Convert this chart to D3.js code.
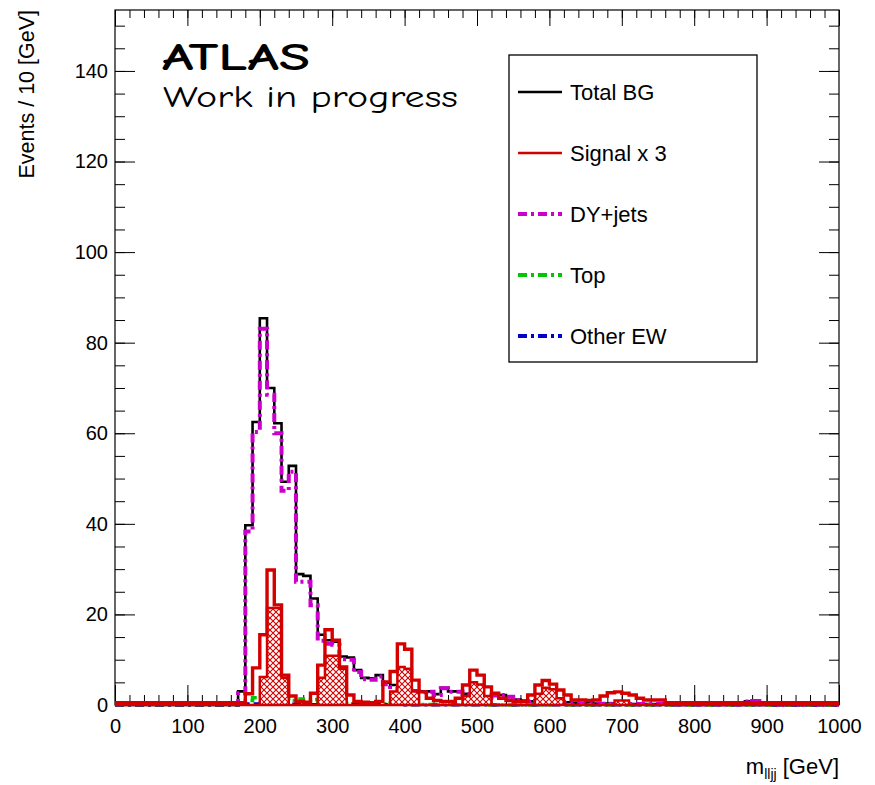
<!DOCTYPE html>
<html>
<head>
<meta charset="utf-8">
<script src="https://cdn.jsdelivr.net/npm/d3@7/dist/d3.min.js"></script>
<style>
  html, body { margin: 0; padding: 0; background: #fff; }
  svg { display: block; }
  .tick text { font-family: "Liberation Sans", Arial, Helvetica, sans-serif; }
</style>
</head>
<body>
<svg id="chart" width="875" height="785"></svg>
<script>
// m_lljj spectrum, 10 GeV bins from 0 to 1000 GeV
const binLow = d3.range(0, 1000, 10);

// Total background
const totalBG = [
  0, 0, 0, 0, 0, 0, 0, 0, 0, 0,
  0, 0, 0, 0, 0, 0, 0, 3.0, 39.7, 62.5,
  85.4, 70.0, 62.2, 49.3, 52.8, 28.9, 28.5, 23.5, 15.5, 14.3,
  14.0, 10.7, 10.5, 7.7, 6.0, 5.9, 6.6, 4.9, 4.4, 3.8,
  3.5, 3.2, 3.0, 3.0, 2.4, 3.8, 3.0, 3.0, 2.5, 2.2,
  2.0, 1.8, 2.2, 2.2, 1.8, 1.2, 1.0, 0.8, 1.0, 1.2,
  1.0, 0.8, 0.6, 0.5, 0.4, 0.4, 0.3, 0.3, 0.3, 0.3,
  0.3, 0.2, 0.2, 0.2, 0.2, 0.2, 0.1, 0.1, 0.1, 0.1,
  0.1, 0.1, 0.1, 0.1, 0.1, 0.1, 0.1, 0.8, 0.9, 0.1,
  0.1, 0, 0, 0, 0, 0, 0, 0, 0, 0
];

// Drell-Yan + jets
const dyJets = [
  0, 0, 0, 0, 0, 0, 0, 0, 0, 0,
  0, 0, 0, 0, 0, 0, 0, 2.6, 38.3, 60.3,
  83.1, 68.5, 60.0, 47.3, 51.5, 27.2, 27.2, 22.0, 14.2, 13.5,
  13.3, 10.1, 10.0, 7.3, 5.7, 5.6, 6.3, 4.6, 4.0, 3.5,
  3.2, 3.0, 2.8, 2.9, 2.2, 3.7, 2.9, 2.9, 2.4, 2.1,
  1.9, 1.7, 2.1, 2.2, 1.8, 1.1, 0.9, 0.7, 0.9, 1.1,
  0.9, 0.7, 0.5, 0.4, 0.3, 0.3, 0.3, 0.3, 0.3, 0.3,
  0.3, 0.2, 0.2, 0.2, 0.2, 0.2, 0.1, 0.1, 0.1, 0.1,
  0.1, 0.1, 0.1, 0.1, 0.1, 0.1, 0.1, 0.8, 0.9, 0.1,
  0.1, 0, 0, 0, 0, 0, 0, 0, 0, 0
];

// Top
const topBG = [
  0, 0, 0, 0, 0, 0, 0, 0, 0, 0,
  0, 0, 0, 0, 0, 0, 0, 0.3, 1.0, 1.6,
  1.8, 1.5, 1.9, 1.5, 1.0, 1.3, 0.9, 1.2, 0.8, 0.5,
  0.4, 0.4, 0.3, 0.3, 0.2, 0.2, 0.2, 0.2, 0.4, 0.2,
  0.2, 0.1, 0.1, 0.1, 0.1, 0.1, 0.1, 0.1, 0.1, 0.1,
  0.1, 0, 0, 0, 0, 0, 0, 0, 0, 0,
  0.1, 0.2, 0, 0, 0, 0, 0, 0, 0, 0,
  0, 0, 0, 0, 0, 0, 0, 0, 0, 0,
  0, 0, 0, 0, 0, 0, 0, 0, 0, 0,
  0, 0, 0, 0, 0, 0, 0, 0, 0, 0
];

// Other electroweak
const otherEW = [
  0, 0, 0, 0, 0, 0, 0, 0, 0, 0,
  0, 0, 0, 0, 0, 0, 0, 0.1, 0.3, 0.3,
  0.4, 0.3, 0.3, 0.2, 0.2, 0.2, 0.1, 0.1, 0.1, 0.1,
  0.1, 0.1, 0.1, 0.1, 0.1, 0.1, 0.1, 0.1, 0.1, 0.1,
  0, 0, 0, 0, 0, 0, 0, 0, 0, 0,
  0, 0, 0, 0, 0, 0, 0, 0, 0, 0,
  0, 0, 0, 0, 0, 0, 0, 0, 0, 0,
  0, 0, 0, 0, 0, 0, 0, 0, 0, 0,
  0, 0, 0, 0, 0, 0, 0, 0, 0, 0,
  0, 0, 0, 0, 0, 0, 0, 0, 0, 0
];

// Signal x 3, open outline (all mass points)
const signalOpen = [
  0.5, 0.5, 0.5, 0.5, 0.5, 0.5, 0.5, 0.5, 0.5, 0.5,
  0.5, 0.5, 0.5, 0.5, 0.5, 0.5, 0.5, 0.5, 2.5, 8.2,
  15.5, 29.8, 22.1, 6.6, 2.0, 0.8, 0.6, 2.6, 8.8, 16.6,
  14.3, 8.4, 2.2, 0.8, 0.6, 0.5, 0.8, 5.1, 7.4, 13.5,
  12.3, 5.5, 2.9, 1.5, 1.0, 0.8, 0.8, 1.5, 4.4, 7.7,
  6.6, 4.0, 2.6, 1.5, 1.0, 0.8, 0.8, 2.2, 4.4, 5.4,
  4.6, 3.3, 2.2, 1.1, 1.1, 1.0, 1.1, 2.0, 2.7, 2.9,
  2.6, 2.2, 1.5, 1.1, 1.1, 1.1, 0.5, 0.5, 0.5, 0.5,
  0.5, 0.5, 0.5, 0.5, 0.5, 0.5, 0.5, 0.5, 0.5, 0.5,
  0.5, 0.5, 0.5, 0.5, 0.5, 0.5, 0.5, 0.5, 0.5, 0.5
];

// Signal x 3, cross-hatched component
const signalHatched = [
  0, 0, 0, 0, 0, 0, 0, 0, 0, 0,
  0, 0, 0, 0, 0, 0, 0, 0, 0, 0,
  6.2, 21.4, 21.4, 6.0, 0, 0, 0, 0, 6.0, 10.9,
  10.9, 8.0, 0, 0, 0, 0, 0, 0, 3.0, 8.4,
  8.0, 3.0, 0, 0, 0, 0, 0, 0, 2.0, 5.0,
  4.5, 2.0, 0, 0, 0, 0, 0, 0, 2.5, 3.8,
  3.5, 1.5, 0, 0, 0, 0, 0, 0, 0, 1.0,
  1.0, 0, 0, 0, 0, 0, 0, 0, 0, 0,
  0, 0, 0, 0, 0, 0, 0, 0, 0, 0,
  0, 0, 0, 0, 0, 0, 0, 0, 0, 0
];

const xMajor = d3.range(0, 1001, 100);
const xMinor = d3.range(0, 1001, 20);
const yMajor = d3.range(0, 141, 20);
const yMinor = d3.range(0, 151, 5);

const legendLabels = ["Total BG", "Signal x 3", "DY+jets", "Top", "Other EW"];

const COL = { total: "#000000", signal: "#d40000", dy: "#cc00cc", top: "#00c800", ew: "#0000cc" };
const FONT = '"Liberation Sans", Arial, Helvetica, sans-serif';
const DASHDOT = "9,4,3,4";

const svg = d3.select("#chart");
const L = 115, R = 839, T = 10, B = 705;

const x = d3.scaleLinear().domain([0, 1000]).range([L, R]);
const y = d3.scaleLinear().domain([0, (B - T) / 4.529]).range([B, T]);

const defs = svg.append("defs");
defs.append("clipPath").attr("id", "plotclip")
  .append("rect").attr("x", L).attr("y", T).attr("width", R - L).attr("height", B - T + 3);
const pat = defs.append("pattern").attr("id", "xhatch")
  .attr("patternUnits", "userSpaceOnUse").attr("width", 6).attr("height", 6);
pat.append("rect").attr("width", 6).attr("height", 6).attr("fill", "#fff");
pat.append("path").attr("d", "M-1,-1L7,7M7,-1L-1,7")
  .attr("stroke", COL.signal).attr("stroke-width", 1.1);

// Axes: ticks drawn inward on all four sides
function styleAxis(g) {
  g.select(".domain").remove();
  g.selectAll(".tick line").attr("stroke", "#000").attr("stroke-width", 1);
  g.selectAll(".tick text").attr("font-size", 20).attr("fill", "#000").attr("font-family", FONT);
}
svg.append("g").attr("transform", `translate(0,${B})`)
  .call(d3.axisBottom(x).tickValues(xMinor).tickSize(-10).tickFormat(""))
  .call(styleAxis);
svg.append("g").attr("transform", `translate(0,${B})`)
  .call(d3.axisBottom(x).tickValues(xMajor).tickSize(-20).tickPadding(14).tickFormat(d3.format("d")))
  .call(styleAxis);
svg.append("g").attr("transform", `translate(0,${T})`)
  .call(d3.axisTop(x).tickValues(xMinor).tickSize(-8).tickFormat(""))
  .call(styleAxis);
svg.append("g").attr("transform", `translate(0,${T})`)
  .call(d3.axisTop(x).tickValues(xMajor).tickSize(-16).tickFormat(""))
  .call(styleAxis);
svg.append("g").attr("transform", `translate(${L},0)`)
  .call(d3.axisLeft(y).tickValues(yMinor).tickSize(-10).tickFormat(""))
  .call(styleAxis);
svg.append("g").attr("transform", `translate(${L},0)`)
  .call(d3.axisLeft(y).tickValues(yMajor).tickSize(-20).tickPadding(7).tickFormat(d3.format("d")))
  .call(styleAxis);
svg.append("g").attr("transform", `translate(${R},0)`)
  .call(d3.axisRight(y).tickValues(yMinor).tickSize(-10).tickFormat(""))
  .call(styleAxis);
svg.append("g").attr("transform", `translate(${R},0)`)
  .call(d3.axisRight(y).tickValues(yMajor).tickSize(-20).tickFormat(""))
  .call(styleAxis);

// Frame
svg.append("rect").attr("x", L).attr("y", T).attr("width", R - L).attr("height", B - T)
  .attr("fill", "none").attr("stroke", "#000").attr("stroke-width", 1.2);

// Histograms
function steps(vals) {
  const pts = vals.map((v, i) => [binLow[i], v]);
  pts.push([1000, vals[vals.length - 1]]);
  return pts;
}
const stepLine = d3.line().x(d => x(d[0])).y(d => y(d[1])).curve(d3.curveStepAfter);
const stepArea = d3.area().x(d => x(d[0])).y0(y(0)).y1(d => y(d[1])).curve(d3.curveStepAfter);

const plot = svg.append("g").attr("clip-path", "url(#plotclip)");

plot.append("path").attr("d", stepLine(steps(totalBG)))
  .attr("fill", "none").attr("stroke", COL.total).attr("stroke-width", 2.6);
plot.append("path").attr("d", stepLine(steps(dyJets)))
  .attr("fill", "none").attr("stroke", COL.dy).attr("stroke-width", 4).attr("stroke-dasharray", DASHDOT);
plot.append("path").attr("d", stepLine(steps(topBG)))
  .attr("fill", "none").attr("stroke", COL.top).attr("stroke-width", 3.5).attr("stroke-dasharray", DASHDOT);
plot.append("path").attr("d", stepLine(steps(otherEW)))
  .attr("fill", "none").attr("stroke", COL.ew).attr("stroke-width", 3).attr("stroke-dasharray", DASHDOT);
plot.append("path").attr("d", stepArea(steps(signalHatched)))
  .attr("fill", "url(#xhatch)").attr("stroke", COL.signal).attr("stroke-width", 2.5);
plot.append("path").attr("d", stepLine(steps(signalOpen)))
  .attr("fill", "none").attr("stroke", COL.signal).attr("stroke-width", 3.4);

// Legend
const leg = svg.append("g");
leg.append("rect").attr("x", 509).attr("y", 55).attr("width", 248).attr("height", 307)
  .attr("fill", "#fff").attr("stroke", "#000").attr("stroke-width", 1.3);
const legStyles = [
  { c: COL.total, dash: null, w: 2.6 },
  { c: COL.signal, dash: null, w: 2.6 },
  { c: COL.dy, dash: DASHDOT, w: 4 },
  { c: COL.top, dash: DASHDOT, w: 4 },
  { c: COL.ew, dash: DASHDOT, w: 4 }
];
legendLabels.forEach((lab, i) => {
  const cy = 92 + i * 61;
  leg.append("line").attr("x1", 518).attr("x2", 562).attr("y1", cy).attr("y2", cy)
    .attr("stroke", legStyles[i].c).attr("stroke-width", legStyles[i].w)
    .attr("stroke-dasharray", legStyles[i].dash);
  leg.append("text").attr("x", 570).attr("y", cy + 8)
    .attr("font-family", FONT).attr("font-size", 22).attr("fill", "#000").text(lab);
});

// Experiment label
svg.append("rect").attr("x", 150).attr("y", 28).attr("width", 320).attr("height", 95).attr("fill", "#fff");
svg.append("text").attr("x", 162).attr("y", 70)
  .attr("font-family", '"Comic Sans MS", "Comic Neue", "DejaVu Sans", sans-serif')
  .attr("font-weight", "bold").attr("font-size", 38)
  .attr("textLength", 148).attr("lengthAdjust", "spacingAndGlyphs")
  .attr("fill", "#000").text("ATLAS");
svg.append("text").attr("x", 163).attr("y", 107)
  .attr("font-family", '"Comic Sans MS", "Comic Neue", "DejaVu Sans", sans-serif')
  .attr("font-size", 30)
  .attr("textLength", 295).attr("lengthAdjust", "spacingAndGlyphs")
  .attr("fill", "#000").text("Work in progress");

// Axis titles
svg.append("text").attr("transform", "rotate(-90)")
  .attr("x", -10).attr("y", 34).attr("text-anchor", "end")
  .attr("font-family", FONT).attr("font-size", 21.5).attr("fill", "#000")
  .text("Events / 10 [GeV]");
const xt = svg.append("text").attr("x", 839).attr("y", 774).attr("text-anchor", "end")
  .attr("font-family", FONT).attr("font-size", 22).attr("fill", "#000");
xt.append("tspan").text("m");
xt.append("tspan").attr("font-size", 14).attr("dy", 5).text("lljj");
xt.append("tspan").attr("dy", -5).text(" [GeV]");
</script>
</body>
</html>
